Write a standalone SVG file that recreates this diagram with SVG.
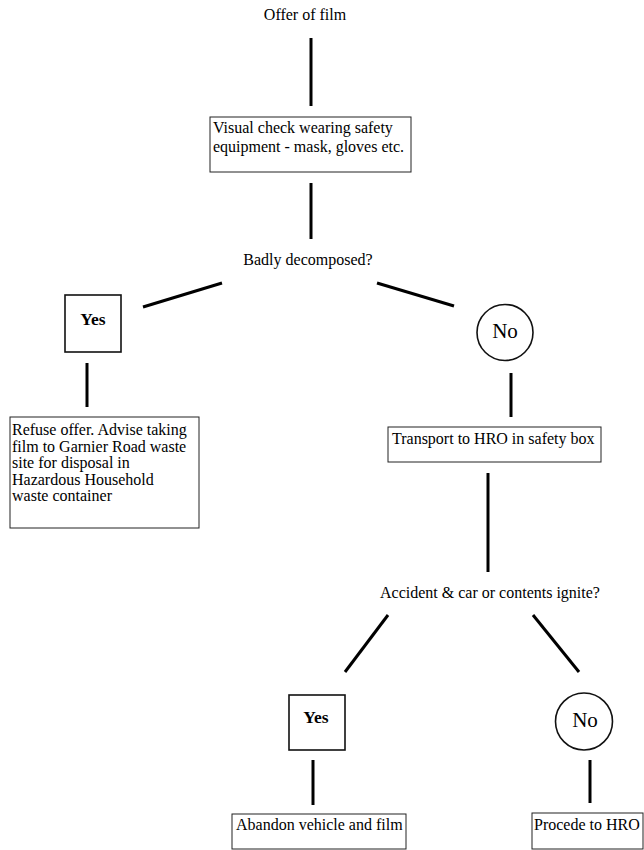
<svg xmlns="http://www.w3.org/2000/svg" width="644" height="850" viewBox="0 0 644 850">
<style>
text{font-family:"Liberation Serif","Times New Roman",serif;font-size:16px;fill:#000}
.c{text-anchor:middle}
.b{font-weight:bold;font-size:17.5px}
.n{font-size:21px}
.box{fill:#fff;stroke:#222;stroke-width:1}
.dec{fill:#fff;stroke:#111;stroke-width:1.6}
.ln{stroke:#000;stroke-width:3;fill:none}
</style>
<rect width="644" height="850" fill="#fff"/>
<g id="connectors">
<line class="ln" x1="311" y1="38" x2="311" y2="106"/>
<line class="ln" x1="311" y1="183" x2="311" y2="239"/>
<line class="ln" x1="143" y1="307" x2="222" y2="283"/>
<line class="ln" x1="377" y1="283" x2="454" y2="306"/>
<line class="ln" x1="87" y1="363" x2="87" y2="407"/>
<line class="ln" x1="511" y1="373" x2="511" y2="417"/>
<line class="ln" x1="488" y1="473" x2="488" y2="572"/>
<line class="ln" x1="388" y1="615" x2="345" y2="672"/>
<line class="ln" x1="533" y1="615" x2="579" y2="672"/>
<line class="ln" x1="313" y1="760" x2="313" y2="805"/>
<line class="ln" x1="590" y1="760" x2="590" y2="803"/>
</g>
<g id="offer"><text class="c" x="305" y="20">Offer of film</text></g>
<g id="visual-check">
<rect class="box" x="210" y="117" width="201" height="55"/>
<text x="213" y="133">Visual check wearing safety</text>
<text x="213" y="152">equipment - mask, gloves etc.</text>
</g>
<g id="badly"><text class="c" x="308" y="265">Badly decomposed?</text></g>
<g id="yes1">
<rect class="dec" x="65" y="295" width="56" height="57"/>
<text class="c b" x="93" y="325">Yes</text>
</g>
<g id="no1">
<circle class="dec" cx="505" cy="332.5" r="28"/>
<text class="c n" x="505" y="338">No</text>
</g>
<g id="refuse">
<rect class="box" x="10" y="417" width="189" height="111"/>
<text x="12" y="435">Refuse offer. Advise taking</text>
<text x="12" y="451.5">film to Garnier Road waste</text>
<text x="12" y="468">site for disposal in</text>
<text x="12" y="484.5">Hazardous Household</text>
<text x="12" y="501">waste container</text>
</g>
<g id="transport">
<rect class="box" x="388" y="427" width="213" height="35"/>
<text x="392" y="444">Transport to HRO in safety box</text>
</g>
<g id="accident"><text class="c" x="490" y="598">Accident &amp; car or contents ignite?</text></g>
<g id="yes2">
<rect class="dec" x="289" y="695" width="56" height="55"/>
<text class="c b" x="316" y="723">Yes</text>
</g>
<g id="no2">
<circle class="dec" cx="584" cy="721.5" r="28.5"/>
<text class="c n" x="585" y="727">No</text>
</g>
<g id="abandon">
<rect class="box" x="232" y="814" width="174" height="35"/>
<text x="236" y="830">Abandon vehicle and film</text>
</g>
<g id="procede">
<rect class="box" x="532" y="813" width="111" height="36"/>
<text x="534" y="830">Procede to HRO</text>
</g>
</svg>
